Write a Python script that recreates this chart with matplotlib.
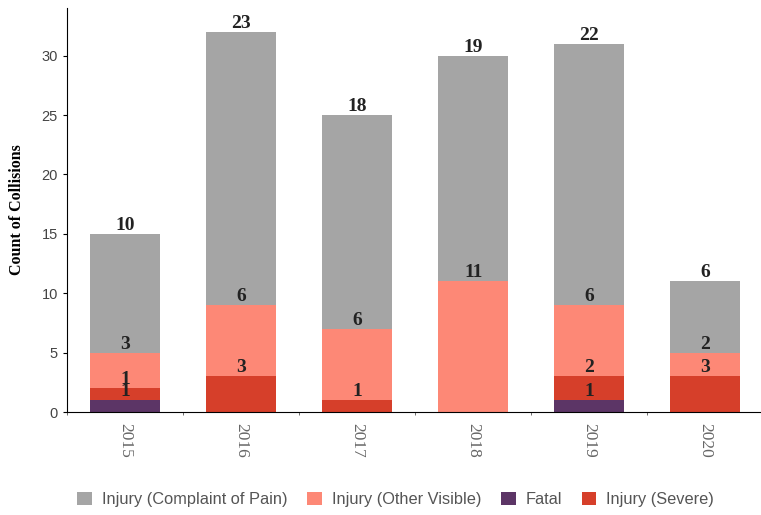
import numpy as np
import matplotlib.pyplot as plt

years = ['2015', '2016', '2017', '2018', '2019', '2020']
fatal = [1, 0, 0, 0, 1, 0]
severe = [1, 3, 1, 0, 2, 3]
other_visible = [3, 6, 6, 11, 6, 2]
complaint = [10, 23, 18, 19, 22, 6]

series = [
    ('Fatal', fatal, '#5c3566'),
    ('Injury (Severe)', severe, '#d63f2a'),
    ('Injury (Other Visible)', other_visible, '#fd8876'),
    ('Injury (Complaint of Pain)', complaint, '#a5a5a5'),
]

fig = plt.figure(figsize=(7.61, 5.15), dpi=100)
ax = fig.add_axes([0.088, 0.2, 0.915, 0.784])

x = np.arange(len(years))
bottom = np.zeros(len(years))
bars = {}
for name, vals, col in series:
    vals = np.array(vals)
    bars[name] = ax.bar(x, vals, 0.6, bottom=bottom, color=col, label=name)
    for xi, b, v in zip(x, bottom, vals):
        if v > 0:
            ax.text(xi, b + v, str(v), ha='center', va='bottom',
                    fontsize=14, fontweight='bold', family='Liberation Serif',
                    color='#222222')
    bottom = bottom + vals

ax.set_xlim(-0.5, 5.5)
ax.set_ylim(0, 34)
ax.set_yticks([0, 5, 10, 15, 20, 25, 30])
ax.set_xticks(x)
ax.set_xticklabels(years, rotation=270, family='Liberation Serif',
                   fontsize=12.5, color='#666666')
ax.set_xticks(np.arange(-0.5, 6, 1), minor=True)
ax.tick_params(axis='x', which='major', length=0, pad=8)
ax.tick_params(axis='x', which='minor', length=2, color='#555555')
ax.tick_params(axis='y', length=3, labelsize=10.5, labelcolor='#444444')
for lbl in ax.get_yticklabels():
    lbl.set_family('Liberation Sans')
ax.set_ylabel('Count of Collisions', family='Liberation Serif',
              fontweight='bold', fontsize=11.5, labelpad=12)
ax.spines['top'].set_visible(False)
ax.spines['right'].set_visible(False)

order = ['Injury (Complaint of Pain)', 'Injury (Other Visible)', 'Fatal', 'Injury (Severe)']
fig.legend([bars[n] for n in order], order, loc='center', bbox_to_anchor=(0.52, 0.03),
           ncol=4, frameon=False, handlelength=0.9, handleheight=0.9,
           handletextpad=0.6, columnspacing=1.2,
           prop={'family': 'Liberation Sans', 'size': 11.8}, labelcolor='#555555')

fig.savefig('out.png', dpi=100)
